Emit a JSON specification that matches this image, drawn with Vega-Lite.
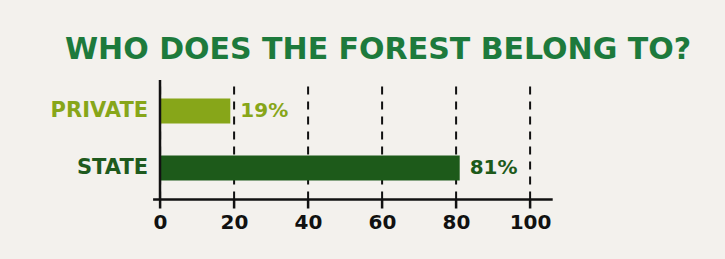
{
  "$schema": "https://vega.github.io/schema/vega-lite/v6.json",
  "width": 399.6,
  "height": 119,
  "autosize": "none",
  "padding": {"left": 152.6, "top": 80, "right": 172.8, "bottom": 60},
  "background": "#f3f1ed",
  "title": {
    "text": "WHO DOES THE FOREST BELONG TO?",
    "anchor": "start",
    "frame": "group",
    "dx": -87.6,
    "offset": 14,
    "font": "DejaVu Sans",
    "fontSize": 30,
    "fontWeight": "bold",
    "color": "#1d7a3c"
  },
  "data": {
    "values": [
      {"owner": "PRIVATE", "share": 19, "label": "19%"},
      {"owner": "STATE", "share": 81, "label": "81%"}
    ]
  },
  "config": {"view": {"stroke": null}},
  "layer": [
    {
      "mark": {"type": "bar"},
      "encoding": {
        "y": {
          "field": "owner",
          "type": "nominal",
          "sort": ["PRIVATE", "STATE"],
          "scale": {"paddingInner": 0.561, "paddingOuter": 0.324},
          "axis": {
            "title": null,
            "domain": false,
            "ticks": false,
            "labelPadding": 5,
            "labelFont": "DejaVu Sans",
            "labelFontSize": 21,
            "labelFontWeight": "bold",
            "labelColor": {"condition": {"test": "datum.value == 'PRIVATE'", "value": "#87a619"}, "value": "#1e5a1e"}
          }
        },
        "x": {
          "field": "share",
          "type": "quantitative",
          "scale": {"domain": [-2, 106], "nice": false, "zero": false},
          "axis": {
            "title": null,
            "values": [0, 20, 40, 60, 80, 100],
            "domainColor": "#111111",
            "domainWidth": 2.5,
            "tickColor": "#111111",
            "tickWidth": 2.5,
            "tickSize": 9,
            "labelFont": "DejaVu Sans",
            "labelFontSize": 20,
            "labelFontWeight": "bold",
            "labelColor": "#111111",
            "labelPadding": 4,
            "grid": true,
            "gridColor": "#111111",
            "gridWidth": 2,
            "gridDash": [8, 7]
          }
        },
        "x2": {"datum": 0},
        "color": {
          "field": "owner",
          "type": "nominal",
          "scale": {"domain": ["PRIVATE", "STATE"], "range": ["#87a619", "#1d5a1a"]},
          "legend": null
        }
      }
    },
    {
      "mark": {"type": "text", "align": "left", "dx": 10, "font": "DejaVu Sans", "fontSize": 20, "fontWeight": "bold"},
      "encoding": {
        "y": {"field": "owner", "type": "nominal", "sort": ["PRIVATE", "STATE"]},
        "x": {"field": "share", "type": "quantitative"},
        "text": {"field": "label"},
        "color": {"field": "owner", "type": "nominal", "legend": null}
      }
    },
    {
      "data": {"values": [{"v": 0}]},
      "mark": {"type": "rule", "color": "#111111", "strokeWidth": 2.5},
      "encoding": {"x": {"field": "v", "type": "quantitative"}}
    }
  ]
}
